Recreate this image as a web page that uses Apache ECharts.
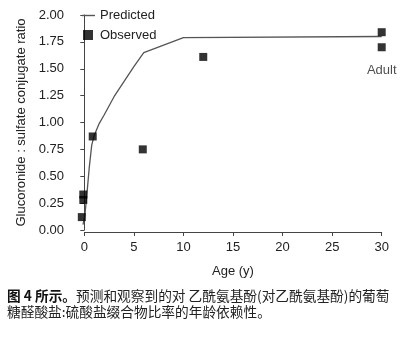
<!DOCTYPE html>
<html>
<head>
<meta charset="utf-8">
<script src="https://cdn.jsdelivr.net/npm/echarts@6/dist/echarts.min.js"></script>
<style>html,body{margin:0;padding:0;background:#fff;}#c{width:420px;height:340px;}</style>
</head>
<body>
<div id="c"></div>
<script>
// Predicted curve (age in years, ratio)
const predAges = [-0.13, 0.05, 0.25, 0.5, 0.75, 1, 1.5, 2, 3, 4, 5, 6, 10, 30];
const predRatio = [0.05, 0.13, 0.32, 0.58, 0.79, 0.88, 0.99, 1.07, 1.24, 1.38, 1.52, 1.65, 1.79, 1.80];
// Observed points
const obsAges = [-0.25, -0.1, -0.1, 0.85, 5.9, 12, 30, 30];
const obsRatio = [0.12, 0.33, 0.28, 0.87, 0.75, 1.61, 1.84, 1.70];
const obsLabels = ['', '', '', '', '', '', '', 'Adult'];
// Axis ticks
const xTicks = [0, 5, 10, 15, 20, 25, 30];
const yTicks = [0, 0.25, 0.5, 0.75, 1, 1.25, 1.5, 1.75, 2];

const txt = '#222';
const axisCol = '#444';
const font = 'Liberation Sans, Arial, sans-serif';

const chart = echarts.init(document.getElementById('c'), null, {renderer: 'canvas'});
chart.setOption({
  animation: false,
  backgroundColor: '#fff',
  textStyle: {fontFamily: font},
  title: {
    left: 7, top: 288, padding: 0,
    text: '{b|图 4 所示。}预测和观察到的对 乙酰氨基酚(对乙酰氨基酚)的葡萄\n糖醛酸盐:硫酸盐缀合物比率的年龄依赖性。',
    textStyle: {
      fontFamily: 'Noto Sans CJK SC', fontSize: 13.7, lineHeight: 16, color: txt, fontWeight: 'normal',
      rich: {b: {fontFamily: 'Noto Sans CJK SC', fontSize: 13.7, lineHeight: 16, fontWeight: 'bold', color: '#111'}}
    }
  },
  legend: [
    {
      left: 82, top: 9, padding: 0, itemWidth: 13, itemHeight: 1.4, orient: 'vertical',
      data: [{name: 'Predicted', icon: 'rect', itemStyle: {color: '#555'}}],
      textStyle: {fontSize: 13, color: txt, fontFamily: font}
    },
    {
      left: 83, top: 28.5, padding: 0, itemWidth: 10, itemHeight: 10, orient: 'vertical',
      data: [{name: 'Observed', icon: 'rect'}],
      textStyle: {fontSize: 13, color: txt, fontFamily: font, padding: [0, 0, 0, 2]}
    }
  ],
  grid: [
    {left: 72, right: 38.3, top: 15, bottom: 110, containLabel: false},
    {left: 84.3, right: 38.3, top: 15, bottom: 108, containLabel: false}
  ],
  xAxis: [
    {
      type: 'value', gridIndex: 0, min: -1.24, max: 30,
      show: false
    },
    {
      type: 'value', gridIndex: 1, min: xTicks[0], max: xTicks[xTicks.length - 1], interval: 5,
      position: 'bottom',
      name: 'Age (y)', nameLocation: 'middle', nameGap: 33,
      nameTextStyle: {fontSize: 13, color: txt, fontFamily: font},
      axisLine: {show: true, lineStyle: {color: axisCol, width: 1}},
      axisTick: {show: true, length: 4, inside: false, lineStyle: {color: axisCol}},
      axisLabel: {fontSize: 13, color: txt, margin: 9, fontFamily: font},
      splitLine: {show: false}
    }
  ],
  yAxis: [
    {
      type: 'value', gridIndex: 0, min: yTicks[0], max: yTicks[yTicks.length - 1], interval: 0.25,
      position: 'left',
      name: 'Glucoronide : sulfate conjugate ratio', nameLocation: 'middle', nameGap: 42,
      nameTextStyle: {fontSize: 13, color: txt, fontFamily: font},
      axisLine: {show: true, lineStyle: {color: axisCol, width: 1}},
      axisTick: {show: true, length: 4, lineStyle: {color: axisCol}},
      axisLabel: {fontSize: 13, color: txt, margin: 8, fontFamily: font, formatter: v => v.toFixed(2)},
      splitLine: {show: false}
    },
    {
      type: 'value', gridIndex: 1, min: 0, max: 1, show: false
    }
  ],
  series: [
    {
      name: 'Predicted', type: 'line', xAxisIndex: 0, yAxisIndex: 0,
      data: predAges.map((a, i) => [a, predRatio[i]]),
      symbol: 'none', smooth: false,
      lineStyle: {color: '#555', width: 1.3},
      itemStyle: {color: '#555'},
      z: 2
    },
    {
      name: 'Observed', type: 'scatter', xAxisIndex: 0, yAxisIndex: 0,
      data: obsAges.map((a, i) => ({
        value: [a, obsRatio[i]],
        label: obsLabels[i] ? {show: true, formatter: obsLabels[i], position: 'bottom', distance: 13,
          fontSize: 13, color: txt, fontFamily: font} : {show: false}
      })),
      symbol: 'rect', symbolSize: 8,
      itemStyle: {color: '#000'},
      clip: false,
      z: 3
    }
  ]
});
</script>
</body>
</html>
